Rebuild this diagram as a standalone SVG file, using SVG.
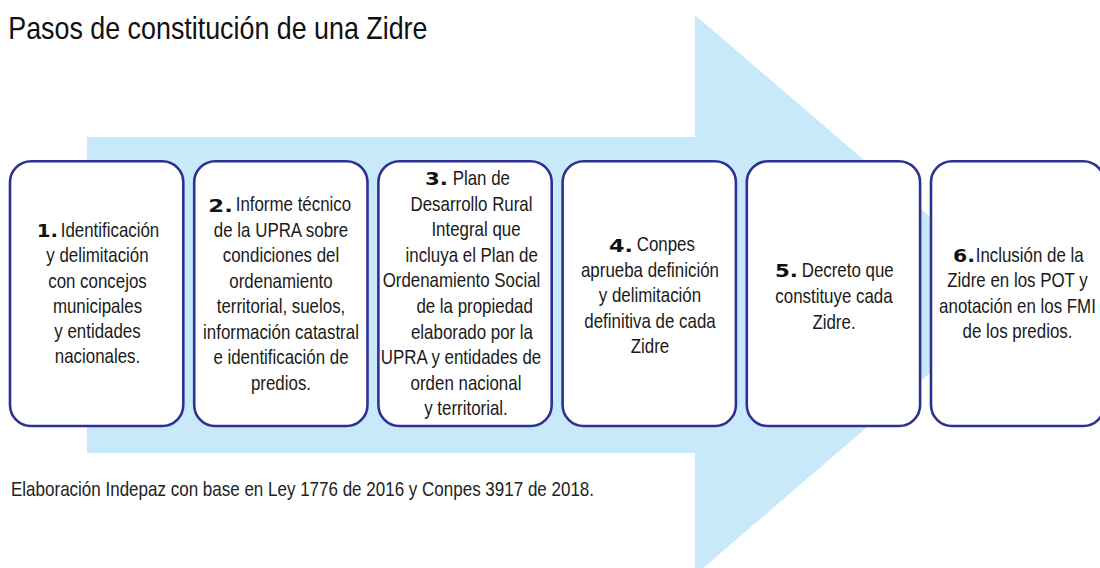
<svg xmlns="http://www.w3.org/2000/svg" width="1100" height="568" viewBox="0 0 1100 568">
<style>
.box{fill:#ffffff;stroke:#2e3192;stroke-width:2.6}
.t{font-family:"Liberation Sans",Arial,sans-serif;font-size:20px;fill:#1a1a1a;text-anchor:middle}
.s{text-anchor:start}
.n{font-family:"DejaVu Sans",Verdana,sans-serif;font-weight:bold;font-size:17px;fill:#111}
.title{font-family:"Liberation Sans",Arial,sans-serif;font-size:30.5px;fill:#111}
.foot{font-family:"Liberation Sans",Arial,sans-serif;font-size:21px;fill:#222}
</style>
<rect width="1100" height="568" fill="#ffffff"/>
<g id="arrow">
<polygon points="87,137 695,137 695,15 1021,295 695,575 695,453 87,453" fill="#c7e9f9"/>
</g>
<text class="title" transform="translate(8.3 39.3) scale(0.88 1)">Pasos de constitución de una Zidre</text>
<g id="connectors"></g>
<g id="step1">
<rect class="box" x="10" y="161.3" width="173.3" height="264.7" rx="21"/>
<text class="n" x="36.7" y="237" textLength="21.3" lengthAdjust="spacingAndGlyphs">1.</text>
<g transform="scale(0.845 1)">
<text class="t s" x="71.83" y="237">Identificación</text>
<text class="t" x="115.38" y="262.3">y delimitación</text>
<text class="t" x="115.38" y="287.6">con concejos</text>
<text class="t" x="115.38" y="312.9">municipales</text>
<text class="t" x="115.38" y="338.2">y entidades</text>
<text class="t" x="115.38" y="363.5">nacionales.</text>
</g>
</g>
<g id="step2">
<rect class="box" x="194.2" y="161.3" width="173.3" height="264.7" rx="21"/>
<text class="n" x="208.3" y="211.5" textLength="24.5" lengthAdjust="spacingAndGlyphs">2.</text>
<g transform="scale(0.845 1)">
<text class="t s" x="278.93" y="211.5">Informe técnico</text>
<text class="t" x="332.54" y="237">de la UPRA sobre</text>
<text class="t" x="332.54" y="262.5">condiciones del</text>
<text class="t" x="332.54" y="288">ordenamiento</text>
<text class="t" x="332.54" y="313.5">territorial, suelos,</text>
<text class="t" x="332.54" y="339">información catastral</text>
<text class="t" x="332.54" y="364.5">e identificación de</text>
<text class="t" x="332.54" y="390">predios.</text>
</g>
</g>
<g id="step3">
<rect class="box" x="378.4" y="161.3" width="173.3" height="264.7" rx="21"/>
<text class="n" x="425" y="185" textLength="23" lengthAdjust="spacingAndGlyphs">3.</text>
<g transform="scale(0.845 1)">
<text class="t s" x="535.74" y="185">Plan de</text>
<text class="t" x="557.99" y="210.6">Desarrollo Rural</text>
<text class="t" x="563.31" y="236.2">Integral que</text>
<text class="t" x="558.22" y="261.8">incluya el Plan de</text>
<text class="t" x="546.15" y="287.4">Ordenamiento Social</text>
<text class="t" x="561.66" y="313">de la propiedad</text>
<text class="t" x="558.58" y="338.6">elaborado por la</text>
<text class="t" x="545.56" y="364.2">UPRA y entidades de</text>
<text class="t" x="551.48" y="389.8">orden nacional</text>
<text class="t" x="551.48" y="415.4">y territorial.</text>
</g>
</g>
<g id="step4">
<rect class="box" x="562.6" y="161.3" width="173.3" height="264.7" rx="21"/>
<text class="n" x="609" y="251.5" textLength="24" lengthAdjust="spacingAndGlyphs">4.</text>
<g transform="scale(0.845 1)">
<text class="t s" x="753.49" y="251.5">Conpes</text>
<text class="t" x="769.23" y="277">aprueba definición</text>
<text class="t" x="769.23" y="302.5">y delimitación</text>
<text class="t" x="769.23" y="328">definitiva de cada</text>
<text class="t" x="769.23" y="353.5">Zidre</text>
</g>
</g>
<g id="step5">
<rect class="box" x="746.8" y="161.3" width="173.3" height="264.7" rx="21"/>
<text class="n" x="775" y="277" textLength="23" lengthAdjust="spacingAndGlyphs">5.</text>
<g transform="scale(0.845 1)">
<text class="t s" x="948.76" y="277">Decreto que</text>
<text class="t" x="986.98" y="303">constituye cada</text>
<text class="t" x="986.98" y="329">Zidre.</text>
</g>
</g>
<g id="step6">
<rect class="box" x="931" y="161.3" width="173.3" height="264.7" rx="21"/>
<text class="n" x="953" y="262" textLength="22" lengthAdjust="spacingAndGlyphs">6.</text>
<g transform="scale(0.845 1)">
<text class="t s" x="1154.67" y="262">Inclusión de la</text>
<text class="t" x="1204.14" y="287.5">Zidre en los POT y</text>
<text class="t" x="1204.14" y="313">anotación en los FMI</text>
<text class="t" x="1204.14" y="338.5">de los predios.</text>
</g>
</g>
<text class="foot" transform="translate(11 496) scale(0.81 1)">Elaboración Indepaz con base en Ley 1776 de 2016 y Conpes 3917 de 2018.</text>
</svg>
